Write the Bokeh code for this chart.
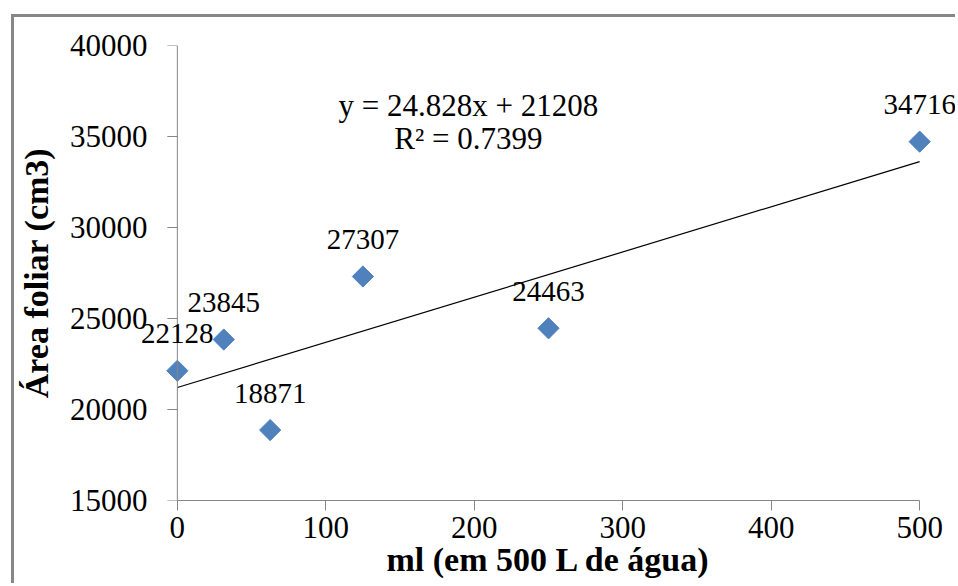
import numpy as np
from bokeh.plotting import figure
from bokeh.models import Range1d, Label, ColumnDataSource, FixedTicker, Span
from bokeh.embed import file_html
from bokeh.resources import INLINE

# data
doses = [0, 31.25, 62.5, 125, 250, 500]
area = [22128, 23845, 18871, 27307, 24463, 34716]
labels = ["22128", "23845", "18871", "27307", "24463", "34716"]
slope = 24.828
intercept = 21208
eq_text = "y = 24.828x + 21208"
r2_text = "R\u00b2 = 0.7399"
x_ticks = [0, 100, 200, 300, 400, 500]
y_ticks = [15000, 20000, 25000, 30000, 35000, 40000]

FONT = "Liberation Serif"
AXIS_GRAY = "#868686"

p = figure(width=944, height=569, output_backend="svg", toolbar_location=None,
           x_range=Range1d(-25.5, 525.5), y_range=Range1d(15000, 40000),
           min_border_left=121, min_border_top=28, min_border_right=1, min_border_bottom=86,
           styles={"margin-left": "11px", "margin-top": "14px",
                   "border-left": "3px solid #878787", "border-top": "3px solid #878787"})
p.outline_line_color = None
p.xgrid.visible = False
p.ygrid.visible = False
p.background_fill_color = "white"
p.border_fill_color = "white"

for ax in (p.xaxis[0], p.yaxis[0]):
    ax.axis_line_color = AXIS_GRAY
    ax.major_tick_line_color = AXIS_GRAY
    ax.minor_tick_line_color = None
    ax.major_tick_out = 10
    ax.major_tick_in = 0
    ax.major_label_text_font = FONT
    ax.major_label_text_font_size = "31px"
    ax.major_label_text_color = "black"
    ax.axis_label_text_font = FONT
    ax.axis_label_text_font_size = "34px"
    ax.axis_label_text_font_style = "bold"
    ax.axis_label_text_color = "black"

p.xaxis.ticker = FixedTicker(ticks=x_ticks)
p.yaxis.ticker = FixedTicker(ticks=y_ticks)
p.xaxis.bounds = (x_ticks[0], x_ticks[-1])
p.xaxis.major_label_standoff = 6
p.xaxis.axis_label = "ml (em 500 L de água)"
p.xaxis.axis_label_standoff = 0

# y axis: labels from the built-in axis, line and ticks drawn at x = 0
p.yaxis.axis_line_color = None
p.yaxis.major_tick_line_color = None
p.yaxis.major_tick_out = 0
p.yaxis.major_label_standoff = -8
p.yaxis.axis_label = "Área foliar (cm3)"
p.yaxis.axis_label_standoff = 12

p.add_layout(Span(location=x_ticks[0], dimension="height", line_color=AXIS_GRAY, line_width=1))
p.ray(x=[x_ticks[0]] * len(y_ticks), y=y_ticks, length=10, length_units="screen",
      angle=np.pi, line_color=AXIS_GRAY, line_width=1)

# trendline
tx = np.array([x_ticks[0], x_ticks[-1]], dtype=float)
ty = slope * tx + intercept
p.line(tx, ty, line_color="black", line_width=1.2)

src = ColumnDataSource(dict(x=doses, y=area))
p.scatter("x", "y", source=src, marker="square", angle=np.pi / 4, size=15,
          fill_color="#4F81BD", line_color="#4F81BD")

# data labels
for xv, yv, lab in zip(doses, area, labels):
    p.add_layout(Label(x=xv, y=yv, text=lab, text_font=FONT, text_font_size="29px",
                       text_align="center", text_baseline="middle", y_offset=37,
                       text_color="black"))

p.add_layout(Label(x=196, y=36700, text=eq_text, text_font=FONT, text_font_size="31px",
                   text_align="center", text_baseline="middle", text_color="black"))
p.add_layout(Label(x=196, y=34900, text=r2_text, text_font=FONT, text_font_size="31px",
                   text_align="center", text_baseline="middle", text_color="black"))

open("out.html", "w").write(file_html(p, INLINE))
